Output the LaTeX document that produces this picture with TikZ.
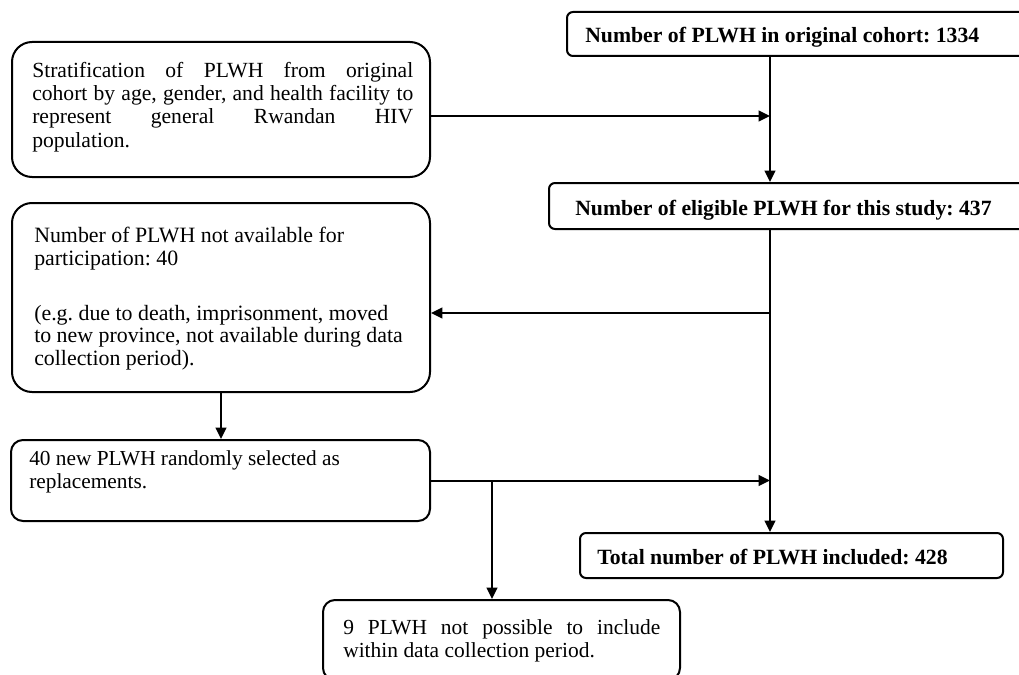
\documentclass[tikz,border=0pt]{standalone}
\usepackage{fontspec}
\setmainfont{Liberation Serif}
\usetikzlibrary{arrows.meta}
\frenchspacing
\begin{document}
\begin{tikzpicture}[x=0.75pt,y=-0.75pt,
  box/.style={draw=black, line width=1.5pt, inner sep=0pt},
  txt/.style={inner sep=0pt, align=left, anchor=west},
  btxt/.style={inner sep=0pt, anchor=base west, font=\fontsize{16.3}{19}\selectfont\bfseries},
  arr/.style={line width=1.5pt, -{Triangle[length=8.5pt,width=8pt]}}]
\useasboundingbox (0,0) rectangle (1019,674);

% boxes
\node[box, rounded corners=4.5pt, minimum width=347.25pt, minimum height=33pt] (A) at (798.5,34) {};
\node[btxt] (At) at (585,43) {Number of PLWH in original cohort: 1334};

\node[box, rounded corners=4.5pt, minimum width=360.75pt, minimum height=34.5pt] (B) at (789.5,206) {};
\node[btxt] (Bt) at (575,215) {Number of eligible PLWH for this study: 437};

\node[box, rounded corners=15pt, minimum width=313.5pt, minimum height=101.25pt] (S) at (221,109.5) {};
\node[txt, font=\fontsize{16.2}{17.5}\selectfont] (St) at (32,107) {\makebox[285.75pt][s]{Stratification of PLWH from original}\\ \makebox[285.75pt][s]{cohort by age, gender, and health facility to}\\ \makebox[285.75pt][s]{represent general Rwandan HIV}\\ population.};

\node[box, rounded corners=15pt, minimum width=313.5pt, minimum height=141.75pt] (C) at (221,297.5) {};
\node[txt, font=\fontsize{16.4}{17}\selectfont] (Ct) at (34,298.5) {Number of PLWH not available for\\ participation: 40\\[24.25pt] (e.g. due to death, imprisonment, moved\\ to new province, not available during data\\ collection period).};

\node[box, rounded corners=9pt, minimum width=314.25pt, minimum height=60.75pt] (D) at (220.5,480.5) {};
\node[txt, font=\fontsize{16}{17.25}\selectfont] (Dt) at (29,471.5) {40 new PLWH randomly selected as\\ replacements.};

\node[box, rounded corners=9pt, minimum width=267.75pt, minimum height=60pt] (E) at (501.5,640) {};
\node[txt, font=\fontsize{16.1}{17}\selectfont] (Et) at (343,641) {\makebox[237.75pt][s]{9 PLWH not possible to include}\\ within data collection period.};

\node[box, rounded corners=4.5pt, minimum width=317.25pt, minimum height=33.75pt] (F) at (791.5,555.5) {};
\node[btxt] (Ft) at (597,564) {Total number of PLWH included: 428};

% connectors
\coordinate (m) at (770,0);
\coordinate (j1) at (770,116);
\coordinate (j2) at (770,313);
\coordinate (j3) at (492,0);
\draw[arr] (A.south -| m) -- (B.north -| m);
\draw[arr] (S.east |- j1) -- (j1);
\draw[arr] (B.south -| m) -- (F.north -| m);
\draw[arr] (j2) -- (C.east |- j2);
\draw[arr] (C.south) -- (C.south |- D.north);
\draw[arr] (D.east) -- (D.east -| m);
\draw[arr] (D.east -| j3) -- (j3 |- E.north);
\end{tikzpicture}
\end{document}
